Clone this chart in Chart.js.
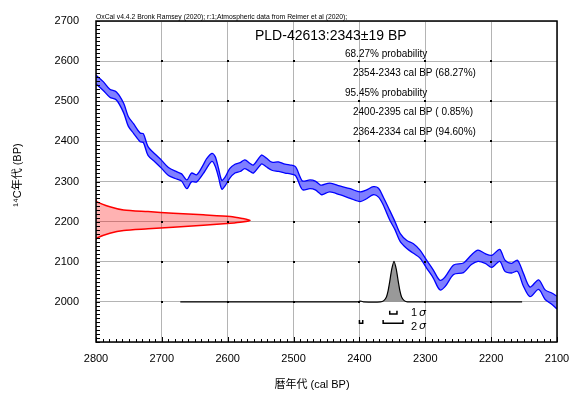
<!DOCTYPE html>
<html>
<head>
<meta charset="utf-8">
<script src="https://cdn.jsdelivr.net/npm/chart.js@4"></script>
<style>
	html, body { margin: 0; padding: 0; background: #fff; }
	#wrap { width: 571px; height: 396px; }
</style>
</head>
<body>
<div id="wrap"><canvas id="calChart"></canvas></div>
<script>
// calibration curve (IntCal20)
const calBP = [2800, 2789, 2779, 2769, 2758, 2751, 2743, 2733, 2728, 2721, 2710, 2700, 2690, 2677, 2670, 2662, 2655, 2647, 2637, 2632, 2624, 2619, 2614, 2609, 2604, 2597, 2589, 2581, 2574, 2566, 2561, 2551, 2548, 2541, 2533, 2523, 2513, 2505, 2498, 2495, 2490, 2486, 2475, 2467, 2460, 2457, 2445, 2430, 2414, 2399, 2389, 2379, 2371, 2364, 2354, 2346, 2338, 2328, 2318, 2308, 2298, 2288, 2278, 2270, 2257, 2242, 2230, 2220, 2209, 2199, 2187, 2179, 2169, 2160, 2151, 2141, 2128, 2118, 2108, 2100];
const c14 = [2554, 2538, 2520, 2513, 2483, 2450, 2432, 2410, 2408, 2376, 2358, 2342, 2325, 2315, 2310, 2293, 2310, 2308, 2331, 2345, 2360, 2350, 2322, 2292, 2300, 2320, 2332, 2336, 2343, 2335, 2331, 2351, 2355, 2347, 2338, 2337, 2332, 2330, 2327, 2320, 2300, 2290, 2293, 2290, 2281, 2279, 2285, 2278, 2270, 2262, 2268, 2277, 2272, 2252, 2216, 2190, 2160, 2143, 2133, 2119, 2094, 2070, 2042, 2050, 2080, 2085, 2105, 2115, 2108, 2101, 2116, 2090, 2084, 2090, 2055, 2025, 2043, 2018, 2008, 1998];
const c14Err = [11, 11, 10, 10, 12, 12, 12, 11, 11, 11, 10, 10, 10, 9, 9, 11, 11, 9, 11, 12, 10, 12, 11, 11, 11, 12, 11, 11, 11, 10, 10, 11, 11, 11, 10, 12, 11, 11, 11, 11, 11, 11, 11, 11, 11, 12, 11, 11, 12, 12, 11, 10, 11, 10, 12, 10, 10, 10, 12, 10, 10, 10, 12, 12, 12, 12, 12, 14, 12, 15, 15, 14, 12, 14, 16, 12, 12, 12, 14, 16];

// measured date (red, on the 14C axis): 14C value and how far it reaches in cal BP
const dateC14 = [2256, 2250, 2237, 2229, 2225, 2221, 2217, 2213, 2208, 2203, 2199, 2196, 2191, 2186, 2182, 2178, 2171, 2159, 2155];
const dateReach = [2800, 2799, 2779, 2758, 2721, 2683, 2637, 2596, 2578, 2566, 2578, 2596, 2637, 2683, 2721, 2758, 2779, 2799, 2800];

// calibrated distribution (grey)
const distCalBP = [2672, 2403, 2400, 2397, 2394, 2368, 2363, 2359, 2356.5, 2354, 2351, 2347.5, 2344, 2341, 2338.5, 2336, 2332, 2327, 2153];
const distProb = [0, 0, 0.015, 0.015, 0, 0, 0.03, 0.12, 0.27, 0.5, 0.8, 1, 0.8, 0.5, 0.27, 0.12, 0.03, 0, 0];
const distBase = 2000;
const distHeight = 101;

// sigma ranges
const sigma1 = [[2354, 2343]];
const sigma2 = [[2400, 2395], [2364, 2334]];

const xTickLabels = ['2800', '2700', '2600', '2500', '2400', '2300', '2200', '2100'];
const yTickLabels = ['2700', '2600', '2500', '2400', '2300', '2200', '2100', '2000'];

const headerText = 'OxCal v4.4.2 Bronk Ramsey (2020); r:1;Atmospheric data from Reimer et al (2020);';
const titleText = 'PLD-42613:2343\u00b119 BP';
const resultLines = [
	['68.27% probability', 0],
	['2354-2343 cal BP (68.27%)', 1],
	['95.45% probability', 0],
	['2400-2395 cal BP ( 0.85%)', 1],
	['2364-2334 cal BP (94.60%)', 1],
];

const FONT = "'Liberation Sans', 'Noto Sans CJK JP', sans-serif";

function bracket(range, top, bottom) {
	return {
		data: [
			{x: range[0], y: top},
			{x: range[0], y: bottom},
			{x: range[1], y: bottom},
			{x: range[1], y: top},
		],
		showLine: true,
		borderColor: '#000',
		borderWidth: 1.5,
		pointRadius: 0,
		fill: false,
	};
}

function buildDatasets() {
	const sets = [];

	sets.push({
		label: 'curveHi',
		data: calBP.map((x, i) => ({x: x, y: c14[i] + c14Err[i]})),
		showLine: true,
		borderColor: '#0000ff',
		borderWidth: 1.3,
		pointRadius: 0,
		tension: 0.3,
		fill: false,
	});
	sets.push({
		label: 'curveLo',
		data: calBP.map((x, i) => ({x: x, y: c14[i] - c14Err[i]})),
		showLine: true,
		borderColor: '#0000ff',
		borderWidth: 1.3,
		backgroundColor: 'rgba(0, 0, 255, 0.5)',
		pointRadius: 0,
		tension: 0.3,
		fill: '-1',
	});
	sets.push({
		label: 'date',
		data: dateC14.map((y, i) => ({x: dateReach[i], y: y})),
		showLine: true,
		borderColor: '#ff0000',
		borderWidth: 1.5,
		backgroundColor: 'rgba(255, 0, 0, 0.3)',
		pointRadius: 0,
		tension: 0.25,
		fill: 'shape',
	});
	sets.push({
		label: 'calibrated',
		data: distCalBP.map((x, i) => ({x: x, y: distBase + distProb[i] * distHeight})),
		showLine: true,
		borderColor: '#000',
		borderWidth: 1.2,
		backgroundColor: '#999999',
		pointRadius: 0,
		tension: 0.2,
		fill: {value: distBase},
	});

	sigma1.forEach(r => sets.push(bracket(r, 1978, 1970)));
	sigma2.forEach(r => sets.push(bracket(r, 1955, 1947)));

	return sets;
}

const decor = {
	id: 'decor',
	afterDatasetsDraw(chart) {
		const {ctx, chartArea: a, scales: {x, y}} = chart;
		ctx.save();

		// intersection dots
		ctx.fillStyle = '#000';
		for (let gx = 2200; gx <= 2700; gx += 100) {
			for (let gy = 2000; gy <= 2600; gy += 100) {
				ctx.fillRect(Math.round(x.getPixelForValue(gx)) - 1, Math.round(y.getPixelForValue(gy)) - 1, 2, 2);
			}
		}

		// minor ticks on the left and bottom
		ctx.strokeStyle = '#000';
		ctx.lineWidth = 1;
		ctx.beginPath();
		for (let v = 1900; v <= 2700; v += 10) {
			const py = Math.round(y.getPixelForValue(v)) + 0.5;
			ctx.moveTo(a.left, py);
			ctx.lineTo(a.left + 4, py);
		}
		for (let v = 2100; v <= 2800; v += 10) {
			const px = Math.round(x.getPixelForValue(v)) + 0.5;
			ctx.moveTo(px, a.bottom);
			ctx.lineTo(px, a.bottom - (v % 100 === 0 ? 5 : 3));
		}
		ctx.stroke();

		// frame
		ctx.lineWidth = 1.5;
		ctx.strokeRect(a.left, a.top, a.right - a.left, a.bottom - a.top);

		// sigma labels
		const lx = x.getPixelForValue(sigma2[sigma2.length - 1][1]) + 8;
		ctx.fillStyle = '#000';
		ctx.textBaseline = 'middle';
		ctx.textAlign = 'left';
		[['1', y.getPixelForValue(1974) + 1], ['2', y.getPixelForValue(1951) + 5]].forEach(([n, py]) => {
			ctx.font = '11px ' + FONT;
			ctx.fillText(n, lx, py);
			ctx.font = 'italic 11px DejaVu Sans';
			ctx.fillText('\u03c3', lx + 8, py);
		});

		ctx.restore();
	},
	afterDraw(chart) {
		const {ctx, chartArea: a} = chart;
		ctx.save();
		ctx.fillStyle = '#000';
		ctx.textBaseline = 'middle';
		ctx.textAlign = 'left';

		ctx.font = '6.8px ' + FONT;
		ctx.fillText(headerText, a.left, 17.5);

		ctx.font = '14px ' + FONT;
		ctx.fillText(titleText, 255, 36);

		ctx.font = '10px ' + FONT;
		resultLines.forEach(([text, indent], i) => {
			ctx.fillText(text, indent ? 353 : 345, 54 + i * 19.5);
		});

		// axis titles
		ctx.font = '11px ' + FONT;
		ctx.textAlign = 'center';
		ctx.fillText('暦年代 (cal BP)', 312, 385);

		ctx.translate(18, 175);
		ctx.rotate(-Math.PI / 2);
		ctx.fillText('\u00b9\u2074C年代 (BP)', 0, 0);

		ctx.restore();
	}
};

function renderChart() {
	const ctx = document.getElementById('calChart').getContext('2d');

	new Chart(ctx, {
		type: 'scatter',
		data: {
			datasets: buildDatasets(),
		},
		options: {
			responsive: true,
			maintainAspectRatio: false,
			animation: false,
			layout: {
				padding: {left: 0, top: 21, right: 14, bottom: 0},
			},
			plugins: {
				legend: {display: false},
				tooltip: {enabled: false},
			},
			scales: {
				x: {
					type: 'linear',
					reverse: true,
					min: 2100,
					max: 2800,
					afterFit: scale => {
						scale.height = 54;
						scale.paddingLeft = 0;
						scale.paddingRight = 0;
					},
					border: {display: false},
					grid: {color: '#b4b4b4', lineWidth: 1, drawTicks: false},
					ticks: {
						stepSize: 100,
						padding: 10,
						color: '#000',
						font: {family: FONT, size: 11},
						callback: v => xTickLabels.includes(String(v)) ? String(v) : '',
					},
				},
				y: {
					type: 'linear',
					min: 1900,
					max: 2700,
					afterFit: scale => {
						scale.width = 96;
						scale.paddingTop = 0;
						scale.paddingBottom = 0;
					},
					border: {display: false},
					grid: {color: '#b4b4b4', lineWidth: 1, drawTicks: false},
					ticks: {
						stepSize: 100,
						padding: 17,
						color: '#000',
						font: {family: FONT, size: 11},
						callback: v => yTickLabels.includes(String(v)) ? String(v) : '',
					},
				},
			},
		},
		plugins: [decor],
	});
}

renderChart();
</script>
</body>
</html>
